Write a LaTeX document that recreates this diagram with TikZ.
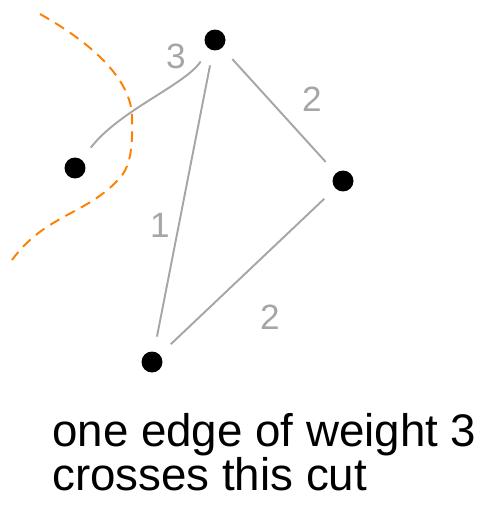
\documentclass[tikz,border=0pt]{standalone}
\usepackage{fontspec}
\setmainfont{Liberation Sans}
\begin{document}
\begin{tikzpicture}[x=0.02cm, y=-0.02cm, >=stealth,
  vert/.style={circle, fill=black, inner sep=0pt, minimum size=0.42cm},
  wedge/.style={draw=gray!70, line width=1.1pt, shorten >=0.3cm, shorten <=0.3cm},
  wlabel/.style={text=gray!70, font=\fontsize{20}{24}\selectfont},
  cutline/.style={draw=orange, line width=1.1pt, dash pattern=on 6pt off 4pt}]
  \useasboundingbox (0,0) rectangle (500,517);

  \node[vert] (top) at (215,40) {};
  \node[vert] (left) at (75,168) {};
  \node[vert] (right) at (343,181) {};
  \node[vert] (bot) at (152,362) {};

  \draw[wedge] (top) .. controls (185,85) and (120,110) .. (left);
  \draw[wedge] (top) -- (bot);
  \draw[wedge] (top) -- (right);
  \draw[wedge] (right) -- (bot);

  \node[wlabel] (w3) at (176,56) {3};
  \node[wlabel] (w2a) at (312,99) {2};
  \node[wlabel] (w1) at (160,225) {1};
  \node[wlabel] (w2b) at (270,317) {2};

  \coordinate (cuta) at (40,14);
  \coordinate (cutb) at (132,115);
  \coordinate (cutc) at (118,180);
  \coordinate (cutd) at (12,260);
  \draw[cutline] (cuta) .. controls (95,45) and (130,80) .. (cutb)
    .. controls (133,150) and (130,168) .. (cutc)
    .. controls (85,215) and (45,215) .. (cutd);

  \node[anchor=west, align=left, font=\fontsize{26}{22}\selectfont] (note) at (46,452)
    {one edge of weight 3\\crosses this cut};
\end{tikzpicture}
\end{document}
